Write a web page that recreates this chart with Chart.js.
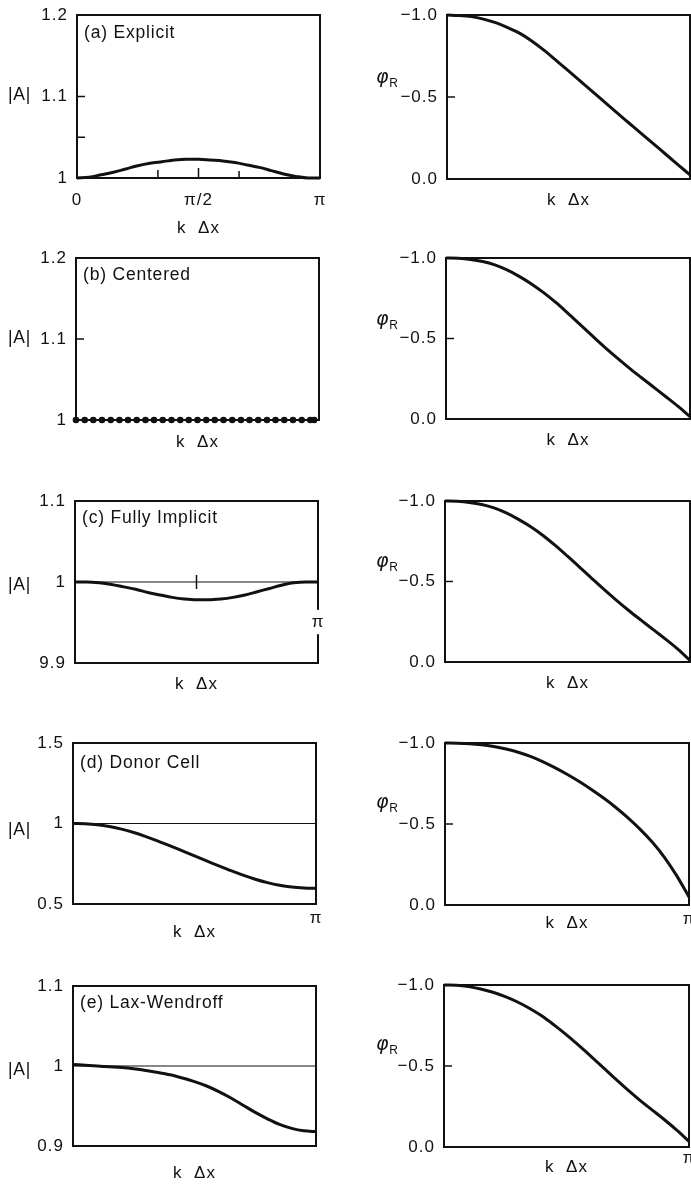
<!DOCTYPE html>
<html lang="en">
<head>
<meta charset="utf-8">
<title>Amplification factor and relative phase</title>
<script src="https://cdn.jsdelivr.net/npm/chart.js@4.4.0/dist/chart.umd.min.js"></script>
<style>
  html, body { margin: 0; padding: 0; background: #fff; }
  body { position: relative; width: 691px; height: 1185px; overflow: hidden;
         font-family: "Liberation Sans", Arial, sans-serif; color: #111; }
  .panel { position: absolute; }
  .label { position: absolute; font-size: 17.5px; letter-spacing: 0.8px; white-space: nowrap;
           line-height: 1; transform: translateY(-50%); z-index: 2; }
  .label .phi { font-family: "DejaVu Sans", sans-serif; font-style: italic; font-size: 19px; }
  .label sub { font-size: 12px; vertical-align: -4px; letter-spacing: 0; }
</style>
</head>
<body>
<script>
// --- DATA (k Δx in units of π) ---
const kGrid = [0, 0.05, 0.1, 0.15, 0.2, 0.25, 0.3, 0.35, 0.4, 0.45, 0.5,
               0.55, 0.6, 0.65, 0.7, 0.75, 0.8, 0.85, 0.9, 0.95, 1];
const centeredK = [0, 0.036, 0.071, 0.107, 0.143, 0.179, 0.214, 0.25, 0.286, 0.321,
                   0.357, 0.393, 0.429, 0.464, 0.5, 0.536, 0.571, 0.607, 0.643, 0.679,
                   0.714, 0.75, 0.786, 0.821, 0.857, 0.893, 0.929, 0.964, 0.98];
const unitK = [0, 1];

// |A|
const ampExplicit = [1.000, 1.001, 1.004, 1.007, 1.011, 1.015, 1.018, 1.020, 1.022, 1.023, 1.023,
                     1.022, 1.021, 1.019, 1.016, 1.013, 1.009, 1.005, 1.002, 1.000, 1.000];
const ampCentered = [1, 1, 1, 1, 1, 1, 1, 1, 1, 1, 1, 1, 1, 1, 1, 1, 1, 1, 1, 1,
                     1, 1, 1, 1, 1, 1, 1, 1, 1];
const ampImplicit = [1.000, 1.000, 0.999, 0.997, 0.994, 0.991, 0.987, 0.984, 0.981, 0.979, 0.978,
                     0.978, 0.979, 0.981, 0.984, 0.988, 0.992, 0.996, 0.999, 1.000, 1.000];
const ampDonor = [1.000, 0.998, 0.992, 0.981, 0.965, 0.944, 0.919, 0.891, 0.861, 0.830, 0.799,
                  0.768, 0.737, 0.707, 0.679, 0.654, 0.633, 0.617, 0.606, 0.600, 0.598];
const ampLaxW = [1.002, 1.001, 1.000, 0.999, 0.998, 0.9965, 0.9945, 0.992, 0.989, 0.985, 0.9805,
                 0.975, 0.968, 0.960, 0.951, 0.942, 0.934, 0.927, 0.922, 0.919, 0.918];
const unitLine = [1, 1];

// φR
const phaseExplicit = [-1.000, -0.997, -0.990, -0.975, -0.953, -0.923, -0.888, -0.840, -0.784, -0.722, -0.659,
                       -0.595, -0.531, -0.467, -0.403, -0.340, -0.277, -0.214, -0.151, -0.088, -0.025];
const phaseCentered = [-1.000, -0.998, -0.991, -0.978, -0.957, -0.926, -0.886, -0.839, -0.785, -0.724, -0.656,
                       -0.586, -0.516, -0.447, -0.381, -0.318, -0.258, -0.199, -0.140, -0.080, -0.015];
const phaseImplicit = [-1.000, -0.998, -0.991, -0.978, -0.957, -0.926, -0.886, -0.840, -0.786, -0.724, -0.657,
                       -0.588, -0.518, -0.449, -0.383, -0.320, -0.260, -0.201, -0.142, -0.080, -0.010];
const phaseDonor = [-1.000, -0.999, -0.996, -0.989, -0.978, -0.963, -0.943, -0.917, -0.885, -0.848, -0.807,
                    -0.762, -0.713, -0.660, -0.602, -0.538, -0.467, -0.387, -0.293, -0.180, -0.050];
const phaseLaxW = [-1.000, -0.998, -0.990, -0.975, -0.955, -0.928, -0.895, -0.855, -0.808, -0.752, -0.692,
                   -0.627, -0.560, -0.490, -0.420, -0.352, -0.288, -0.228, -0.168, -0.104, -0.035];

// tick values and labels
const ampTicks12 = [1, 1.1, 1.2];
const ampLabels12 = ['1', '1.1', '1.2'];
const ampTicksImplicit = [0.9, 1, 1.1];
const ampLabelsImplicit = ['9.9', '1', '1.1'];
const ampTicksDonor = [0.5, 1, 1.5];
const ampLabelsDonor = ['0.5', '1', '1.5'];
const ampTicksLaxW = [0.9, 1, 1.1];
const ampLabelsLaxW = ['0.9', '1', '1.1'];
const phaseTicks = [-1, -0.5, 0];
const phaseLabels = ['\u22121.0', '\u22120.5', '0.0'];
const kTicksFull = [0, 0.5, 1];
const kLabelsFull = ['0', '\u03c0/2', '\u03c0'];
const kTicksEnd = [1];
const kLabelsEnd = ['\u03c0'];
const kMarksExplicit = [0.333, 0.5, 0.667];

// --- LAYOUT ---
const AXIS_W = 70;
const AXIS_H = 62;
const PAD_TOP = 14;
const INK = '#111';
const tickFont = { family: '"Liberation Sans", Arial, sans-serif', size: 17 };

// frame round the plot area + inward tick marks
const framePlugin = {
    id: 'frame',
    beforeDraw(chart) {
        const { ctx, chartArea: a } = chart;
        ctx.save();
        ctx.strokeStyle = INK;
        ctx.lineWidth = 2;
        ctx.strokeRect(a.left, a.top, a.right - a.left, a.bottom - a.top);
        ctx.restore();
        ctx.letterSpacing = '1px';
    },
    afterDraw(chart, args, opts) {
        const { ctx, chartArea: a, scales: { x, y } } = chart;
        ctx.save();
        ctx.strokeStyle = INK;
        ctx.lineWidth = 1.5;
        ctx.beginPath();
        (opts.yMarks || []).forEach(v => {
            const py = y.getPixelForValue(v);
            ctx.moveTo(a.left, py);
            ctx.lineTo(a.left + 8, py);
        });
        (opts.xMarks || []).forEach((v, i) => {
            const px = x.getPixelForValue(v);
            const len = opts.xMarkLen ? opts.xMarkLen[i] : 8;
            ctx.moveTo(px, a.bottom);
            ctx.lineTo(px, a.bottom - len);
        });
        (opts.crosses || []).forEach(([vx, vy]) => {
            const px = x.getPixelForValue(vx);
            const py = y.getPixelForValue(vy);
            ctx.moveTo(px, py - 7);
            ctx.lineTo(px, py + 7);
        });
        ctx.stroke();
        ctx.restore();
    }
};

function toPoints(ks, vs) {
    return ks.map((k, i) => ({ x: k, y: vs[i] }));
}

function addLabel(html, left, top) {
    const el = document.createElement('div');
    el.className = 'label';
    el.innerHTML = html;
    el.style.left = left + 'px';
    el.style.top = top + 'px';
    document.body.appendChild(el);
}

function makePanel(p) {
    const [l, t, r, b] = p.box;
    const padRight = p.side === 'left' ? 16 : 691 - r;

    const box = document.createElement('div');
    box.className = 'panel';
    box.style.left = (l - AXIS_W) + 'px';
    box.style.top = (t - PAD_TOP) + 'px';
    box.style.width = (r - l + AXIS_W + padRight) + 'px';
    box.style.height = (b - t + PAD_TOP + AXIS_H) + 'px';
    const canvas = document.createElement('canvas');
    box.appendChild(canvas);
    document.body.appendChild(box);

    const datasets = [];
    if (p.refLine) {
        datasets.push({
            data: toPoints(unitK, unitLine),
            borderColor: INK, borderWidth: 1.1, pointRadius: 0, clip: false
        });
    }
    datasets.push({
        data: toPoints(p.k, p.values),
        borderColor: INK,
        backgroundColor: INK,
        borderWidth: p.dots ? 2 : 3,
        pointRadius: p.dots ? 3.3 : 0,
        pointBackgroundColor: INK,
        pointBorderWidth: 0,
        cubicInterpolationMode: 'monotone',
        clip: false
    });

    const xTicks = p.xTicks || [];
    const xLabels = p.xLabels || [];

    new Chart(canvas, {
        type: 'line',
        data: { datasets },
        plugins: [framePlugin],
        options: {
            responsive: true,
            maintainAspectRatio: false,
            animation: false,
            events: [],
            layout: { autoPadding: false, padding: { top: PAD_TOP, right: padRight, left: 0, bottom: 0 } },
            plugins: {
                legend: { display: false },
                tooltip: { enabled: false },
                frame: p.marks || {}
            },
            scales: {
                x: {
                    type: 'linear',
                    min: 0,
                    max: 1,
                    grid: { display: false, drawTicks: false },
                    border: { display: false },
                    afterBuildTicks: s => { s.ticks = xTicks.map(v => ({ value: v })); },
                    afterFit: s => {
                        s.height = AXIS_H;
                        s.paddingLeft = 0;
                        s.paddingRight = 0;
                    },
                    ticks: {
                        padding: p.xTickPad || 0,
                        mirror: !!p.xMirror,
                        maxRotation: 0,
                        autoSkip: false,
                        color: INK,
                        font: tickFont,
                        showLabelBackdrop: !!p.xMirror,
                        backdropColor: '#fff',
                        backdropPadding: 2,
                        callback: (v, i) => xLabels[i]
                    },
                    title: {
                        display: true,
                        text: 'k  \u0394x',
                        color: INK,
                        font: tickFont,
                        padding: { top: 0, bottom: AXIS_H - 10.2 - p.titleDy }
                    }
                },
                y: {
                    type: 'linear',
                    min: p.yMin,
                    max: p.yMax,
                    reverse: !!p.reverse,
                    grid: { display: false, drawTicks: false },
                    border: { display: false },
                    afterBuildTicks: s => { s.ticks = p.yTicks.map(v => ({ value: v })); },
                    afterFit: s => {
                        s.width = AXIS_W;
                        s.paddingTop = 0;
                        s.paddingBottom = 0;
                    },
                    ticks: {
                        padding: 9,
                        autoSkip: false,
                        color: INK,
                        font: tickFont,
                        callback: (v, i) => p.yLabels[i]
                    }
                }
            }
        }
    });

    if (p.name) addLabel(p.name, l + 7, p.nameY);
    if (p.side === 'left') addLabel('|A|', 8, p.axisLabelY);
    else addLabel('<span class="phi">\u03c6</span><sub>R</sub>', 376, p.axisLabelY);
}

// --- PANELS ---
const panels = [
    { side: 'left', box: [77, 15, 320, 178], name: '(a) Explicit', nameY: 33, axisLabelY: 95,
      k: kGrid, values: ampExplicit, yMin: 1, yMax: 1.2, yTicks: ampTicks12, yLabels: ampLabels12,
      xTicks: kTicksFull, xLabels: kLabelsFull, xTickPad: 11.8, titleDy: 50,
      marks: { yMarks: [1.1, 1.05], xMarks: kMarksExplicit, xMarkLen: [8, 10, 7] } },
    { side: 'right', box: [447, 15, 690, 179], axisLabelY: 78,
      k: kGrid, values: phaseExplicit, yMin: -1, yMax: 0, reverse: true,
      yTicks: phaseTicks, yLabels: phaseLabels, titleDy: 21, marks: { yMarks: [-0.5] } },

    { side: 'left', box: [76, 258, 319, 420], name: '(b) Centered', nameY: 275, axisLabelY: 338,
      k: centeredK, values: ampCentered, dots: true, yMin: 1, yMax: 1.2,
      yTicks: ampTicks12, yLabels: ampLabels12, titleDy: 22, marks: { yMarks: [1.1] } },
    { side: 'right', box: [446, 258, 690, 419], axisLabelY: 320,
      k: kGrid, values: phaseCentered, yMin: -1, yMax: 0, reverse: true,
      yTicks: phaseTicks, yLabels: phaseLabels, titleDy: 21, marks: { yMarks: [-0.5] } },

    { side: 'left', box: [75, 501, 318, 663], name: '(c) Fully Implicit', nameY: 518, axisLabelY: 585,
      k: kGrid, values: ampImplicit, refLine: true, yMin: 0.9, yMax: 1.1,
      yTicks: ampTicksImplicit, yLabels: ampLabelsImplicit,
      xTicks: kTicksEnd, xLabels: kLabelsEnd, xMirror: true, xTickPad: 30.8, titleDy: 21,
      marks: { crosses: [[0.5, 1]] } },
    { side: 'right', box: [445, 501, 690, 662], axisLabelY: 562,
      k: kGrid, values: phaseImplicit, yMin: -1, yMax: 0, reverse: true,
      yTicks: phaseTicks, yLabels: phaseLabels, titleDy: 21, marks: { yMarks: [-0.5] } },

    { side: 'left', box: [73, 743, 316, 904], name: '(d) Donor Cell', nameY: 763, axisLabelY: 830,
      k: kGrid, values: ampDonor, refLine: true, yMin: 0.5, yMax: 1.5,
      yTicks: ampTicksDonor, yLabels: ampLabelsDonor,
      xTicks: kTicksEnd, xLabels: kLabelsEnd, xTickPad: 3.8, titleDy: 28 },
    { side: 'right', box: [445, 743, 689, 905], axisLabelY: 803,
      k: kGrid, values: phaseDonor, yMin: -1, yMax: 0, reverse: true,
      yTicks: phaseTicks, yLabels: phaseLabels,
      xTicks: kTicksEnd, xLabels: kLabelsEnd, xTickPad: 3.8, titleDy: 18, marks: { yMarks: [-0.5] } },

    { side: 'left', box: [73, 986, 316, 1146], name: '(e) Lax-Wendroff', nameY: 1003, axisLabelY: 1070,
      k: kGrid, values: ampLaxW, refLine: true, yMin: 0.9, yMax: 1.1,
      yTicks: ampTicksLaxW, yLabels: ampLabelsLaxW, titleDy: 27 },
    { side: 'right', box: [444, 985, 689, 1147], axisLabelY: 1045,
      k: kGrid, values: phaseLaxW, yMin: -1, yMax: 0, reverse: true,
      yTicks: phaseTicks, yLabels: phaseLabels,
      xTicks: kTicksEnd, xLabels: kLabelsEnd, xTickPad: 0.8, titleDy: 20, marks: { yMarks: [-0.5] } }
];

panels.forEach(makePanel);
</script>
</body>
</html>
